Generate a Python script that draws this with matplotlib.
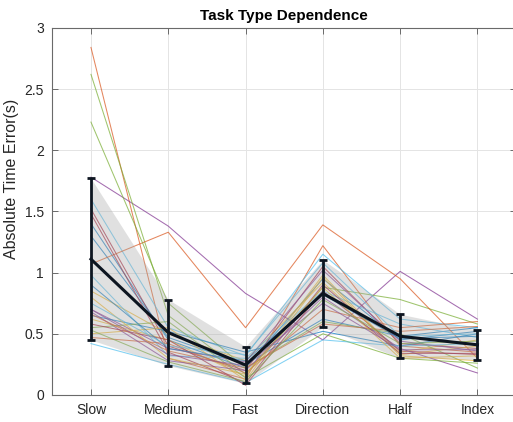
import matplotlib
matplotlib.use("Agg")
import matplotlib.pyplot as plt
import numpy as np

plt.rcParams['font.family'] = ['Liberation Sans', 'DejaVu Sans']

# ---- data ----
conditions = ["Slow", "Medium", "Fast", "Direction", "Half", "Index"]

mean_error = [1.11, 0.51, 0.245, 0.83, 0.48, 0.41]
std_error = [0.66, 0.27, 0.15, 0.275, 0.18, 0.12]

subj_00 = [1.40, 0.45, 0.22, 0.95, 0.45, 0.52]
subj_01 = [2.84, 0.30, 0.13, 1.22, 0.40, 0.35]
subj_02 = [0.85, 0.50, 0.28, 0.92, 0.35, 0.45]
subj_03 = [1.78, 1.38, 0.83, 0.45, 1.01, 0.62]
subj_04 = [2.62, 0.65, 0.17, 0.88, 0.78, 0.58]
subj_05 = [1.60, 0.55, 0.32, 1.15, 0.62, 0.55]
subj_06 = [1.52, 0.40, 0.20, 1.05, 0.42, 0.38]
subj_07 = [1.30, 0.47, 0.25, 0.62, 0.48, 0.55]
subj_08 = [1.07, 1.33, 0.55, 1.39, 0.95, 0.30]
subj_09 = [0.62, 0.45, 0.15, 0.98, 0.33, 0.40]
subj_10 = [0.70, 0.38, 0.27, 1.02, 0.44, 0.36]
subj_11 = [2.23, 0.75, 0.22, 0.60, 0.50, 0.22]
subj_12 = [0.98, 0.32, 0.30, 0.85, 0.58, 0.47]
subj_13 = [1.48, 0.35, 0.10, 0.90, 0.36, 0.33]
subj_14 = [0.65, 0.52, 0.35, 0.52, 0.40, 0.50]
subj_15 = [0.47, 0.42, 0.18, 0.70, 0.55, 0.60]
subj_16 = [0.50, 0.55, 0.12, 0.96, 0.32, 0.28]
subj_17 = [0.68, 0.28, 0.20, 0.80, 0.38, 0.18]
subj_18 = [0.55, 0.60, 0.14, 0.50, 0.30, 0.26]
subj_19 = [0.42, 0.25, 0.10, 0.45, 0.40, 0.42]
subj_20 = [0.58, 0.45, 0.08, 0.85, 0.34, 0.34]
subj_21 = [0.90, 0.38, 0.28, 0.82, 0.46, 0.48]
subj_22 = [0.66, 0.36, 0.22, 0.58, 0.52, 0.56]
subj_23 = [0.80, 0.30, 0.17, 0.88, 0.30, 0.32]
subj_24 = [0.70, 0.33, 0.24, 0.75, 0.37, 0.37]
subj_25 = [0.53, 0.27, 0.11, 0.78, 0.42, 0.44]
subj_26 = [0.75, 0.40, 0.33, 1.08, 0.48, 0.50]

subjects = [subj_00, subj_01, subj_02, subj_03, subj_04, subj_05, subj_06,
            subj_07, subj_08, subj_09, subj_10, subj_11, subj_12, subj_13,
            subj_14, subj_15, subj_16, subj_17, subj_18, subj_19, subj_20,
            subj_21, subj_22, subj_23, subj_24, subj_25, subj_26]

matlab_colors = ["#0072BD", "#D95319", "#EDB120", "#7E2F8E",
                 "#77AC30", "#4DBEEE", "#A2142F"]

# ---- figure ----
fig = plt.figure(figsize=(5.13, 4.22), dpi=100)
ax = fig.add_axes([0.102, 0.064, 0.904, 0.870])

x = np.arange(1, len(conditions) + 1)

for i, s in enumerate(subjects):
    ax.plot(x, s, color=matlab_colors[i % 7], lw=0.75, alpha=0.7, zorder=2)

m = np.array(mean_error)
sd = np.array(std_error)
ax.fill_between(x, m - sd, m + sd, color="#a8a8a8", alpha=0.35, lw=0, zorder=3)
ax.errorbar(x, m, yerr=sd, color="#0d1520", lw=2.2, elinewidth=2.0,
            capsize=3, capthick=2.0, zorder=5)

ax.set_xlim(0.5, 6.5)
ax.set_ylim(0, 3)
ax.set_xticks(x)
ax.set_xticklabels(conditions)
ax.set_yticks([0, 0.5, 1, 1.5, 2, 2.5, 3])
ax.set_yticklabels(["0", "0.5", "1", "1.5", "2", "2.5", "3"])

ax.grid(True, color="#e4e4e4", lw=0.7, zorder=0)
ax.set_axisbelow(True)
for sp in ax.spines.values():
    sp.set_color("#6a6a6a")
    sp.set_linewidth(0.8)
ax.tick_params(direction="in", length=4, width=0.7, color="#6a6a6a",
               labelsize=10, labelcolor="#262626", top=True, right=True,
               pad=6)

ax.set_title("Task Type Dependence", fontsize=11, fontweight="bold",
             color="black", pad=6)
ax.set_ylabel("Absolute Time Error(s)", fontsize=11.5, color="#262626")
ax.yaxis.set_label_coords(-0.072, 0.59)

fig.savefig("out.png", dpi=100)
